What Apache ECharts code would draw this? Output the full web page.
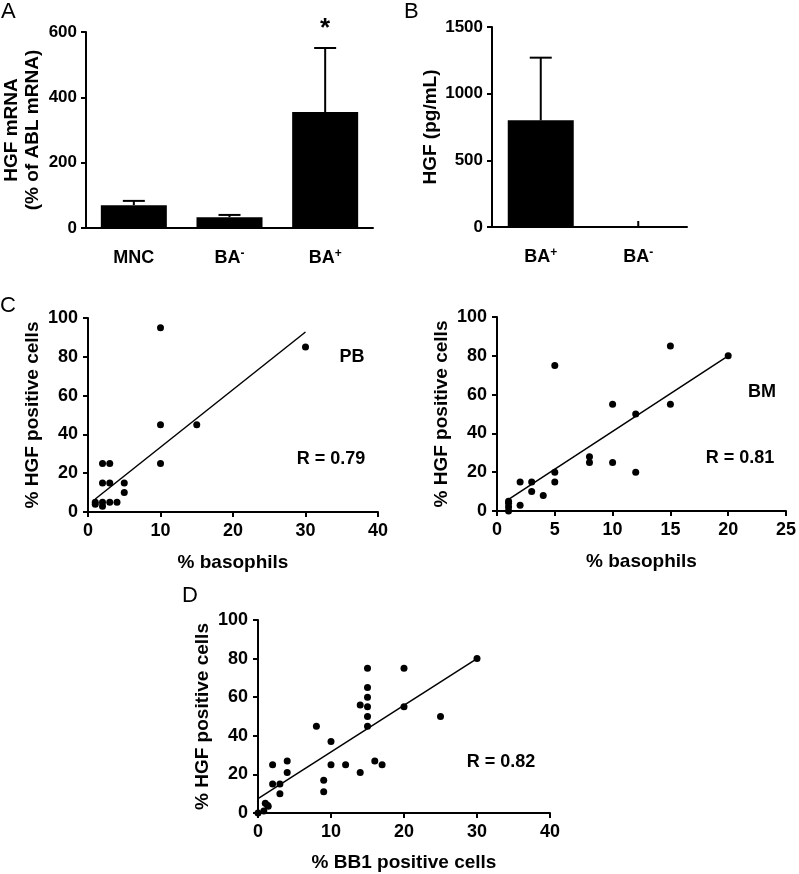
<!DOCTYPE html>
<html>
<head>
<meta charset="utf-8">
<script src="https://cdn.jsdelivr.net/npm/echarts@6/dist/echarts.min.js"></script>
<style>
html,body{margin:0;padding:0;background:#fff;}
#main{width:799px;height:874px;}
</style>
</head>
<body>
<div id="main"></div>
<script>
// ---- Panel A: HGF mRNA (% of ABL mRNA)
const catsA = ['MNC', 'BA-', 'BA+'];
const meanA = [70, 33, 355];
const errA = [13, 7, 196];
const markA = ['', '', '*'];
const ticksA = [0, 200, 400, 600];

// ---- Panel B: HGF (pg/mL)
const catsB = ['BA+', 'BA-'];
const meanB = [800, 0];
const errB = [470, 45];
const ticksB = [0, 500, 1000, 1500];

// ---- Panel C left: PB
const pbX = [10, 30, 10, 15, 10, 2, 3, 2, 3, 5, 5, 1, 1, 2, 2, 3, 4];
const pbY = [95, 85, 45, 45, 25, 25, 25, 15, 15, 15, 10, 5, 4, 5, 3, 5, 5];
const pbFitX = [1, 30];
const pbFitY = [6.7, 92.8];

// ---- Panel C right: BM
const bmX = [5, 15, 20, 15, 10, 12, 8, 8, 10, 12, 5, 5, 3, 2, 3, 4, 2, 1, 1, 1, 1];
const bmY = [75, 85, 80, 55, 55, 50, 28, 25, 25, 20, 20, 15, 15, 15, 10, 8, 3, 5, 4, 2, 0];
const bmFitX = [1, 20];
const bmFitY = [6, 80];

// ---- Panel D: BB1
const bbX = [30, 20, 15, 15, 15, 15, 15, 15, 14, 20, 25, 8, 10, 10, 12, 14, 16, 17, 9, 9, 4, 4, 2, 2, 3, 3, 1, 1.3, 1.4, 0.8, 0];
const bbY = [80, 75, 75, 65, 60, 55, 50, 45, 56, 55, 50, 45, 37, 25, 25, 21, 27, 25, 17, 11, 27, 21, 25, 15, 15, 10, 5, 4, 3.5, 1, 0];
const bbFitX = [0, 30];
const bbFitY = [7.4, 80];

const FONT = '"Liberation Sans", Arial, sans-serif';
const zip = (a, b) => a.map((v, i) => [v, b[i]]);

const chart = echarts.init(document.getElementById('main'), null, {renderer: 'canvas'});

function catLabel(v) {
  const m = v.match(/^BA([+-])$/);
  if (m) return '{b|BA}{s|' + (m[1] === '-' ? '-' : '+') + '}';
  return '{b|' + v + '}';
}
const catRich = {
  b: {fontSize: 18, fontWeight: 'bold', fontFamily: FONT, color: '#000', lineHeight: 20},
  s: {fontSize: 12, fontWeight: 'bold', fontFamily: FONT, color: '#000', lineHeight: 12, verticalAlign: 'top'}
};

const axisLine = {show: true, lineStyle: {color: '#000', width: 2}};
const axisTick = {show: true, length: 5, lineStyle: {color: '#000', width: 2}};

function valueAxis(gridIndex, min, max, interval, fs, name, gap, margin) {
  return {
    type: 'value', gridIndex, min, max, interval,
    axisLine, axisTick,
    splitLine: {show: false},
    axisLabel: {color: '#000', fontSize: fs, fontWeight: 'bold', fontFamily: FONT, margin: margin,
      formatter: v => String(v)},
    name, nameLocation: 'middle', nameGap: gap,
    nameTextStyle: {color: '#000', fontSize: 19, fontWeight: 'bold', fontFamily: FONT, lineHeight: 21}
  };
}

function errRender(means, errs, marks) {
  return function (params, api) {
    const i = params.dataIndex;
    const x = api.value(0);
    const m = api.value(1);
    const e = api.value(2);
    const p0 = api.coord([x, m]);
    const p1 = api.coord([x, m + e]);
    const children = [{
      type: 'line',
      shape: {x1: p0[0], y1: p0[1], x2: p1[0], y2: p1[1]},
      style: {stroke: '#000', lineWidth: 2}
    }];
    if (m > 0) {
      children.push({
        type: 'line',
        shape: {x1: p1[0] - 11, y1: p1[1], x2: p1[0] + 11, y2: p1[1]},
        style: {stroke: '#000', lineWidth: 2}
      });
    }
    if (marks && marks[i]) {
      children.push({
        type: 'text',
        style: {text: marks[i], x: p1[0], y: p1[1] - 6, align: 'center', verticalAlign: 'bottom',
          fontSize: 26, fontWeight: 'bold', fontFamily: FONT, fill: '#000'}
      });
    }
    return {type: 'group', children};
  };
}

const letter = (t, x, y) => ({
  type: 'text', left: x, top: y,
  style: {text: t, fontSize: 22, fontFamily: FONT, fill: '#000'}
});
const note = (t, cx, cy) => ({
  type: 'text', x: cx, y: cy,
  style: {text: t, fontSize: 18, fontWeight: 'bold', fontFamily: FONT, fill: '#000', align: 'center', verticalAlign: 'middle'}
});
const dot = {color: '#000', opacity: 1};

const option = {
  backgroundColor: '#fff',
  animation: false,
  grid: [
    {left: 86, top: 32, width: 287, height: 196},
    {left: 492, top: 27, width: 195, height: 200},
    {left: 88, top: 318, width: 290, height: 194},
    {left: 497, top: 317, width: 292, height: 194},
    {left: 258, top: 620, width: 292, height: 194}
  ],
  xAxis: [
    {type: 'category', gridIndex: 0, data: catsA, axisLine, axisTick: {show: false},
      axisLabel: {formatter: catLabel, rich: catRich, margin: 20}},
    {type: 'category', gridIndex: 1, data: catsB, axisLine, axisTick: {show: false},
      axisLabel: {formatter: catLabel, rich: catRich, margin: 20}},
    valueAxis(2, 0, 40, 10, 18, '% basophils', 40, 10),
    valueAxis(3, 0, 25, 5, 18, '% basophils', 40, 10),
    valueAxis(4, 0, 40, 10, 18, '% BB1 positive cells', 39, 10)
  ],
  yAxis: [
    valueAxis(0, ticksA[0], ticksA[ticksA.length - 1], ticksA[1] - ticksA[0], 17, 'HGF mRNA\n(% of ABL mRNA)', 43, 9),
    valueAxis(1, ticksB[0], ticksB[ticksB.length - 1], ticksB[1] - ticksB[0], 17, 'HGF (pg/mL)', 50, 9),
    valueAxis(2, 0, 100, 20, 18, '% HGF positive cells', 45, 10),
    valueAxis(3, 0, 100, 20, 18, '% HGF positive cells', 45, 10),
    valueAxis(4, 0, 100, 20, 18, '% HGF positive cells', 45, 10)
  ],
  series: [
    {type: 'bar', xAxisIndex: 0, yAxisIndex: 0, data: meanA, barWidth: 66, itemStyle: {color: '#000'}, z: 2},
    {type: 'custom', xAxisIndex: 0, yAxisIndex: 0, renderItem: errRender(meanA, errA, markA),
      data: catsA.map((c, i) => [i, meanA[i], errA[i]]), z: 3},
    {type: 'bar', xAxisIndex: 1, yAxisIndex: 1, data: meanB, barWidth: 66, itemStyle: {color: '#000'}, z: 2},
    {type: 'custom', xAxisIndex: 1, yAxisIndex: 1, renderItem: errRender(meanB, errB, null),
      data: catsB.map((c, i) => [i, meanB[i], errB[i]]), z: 3},

    {type: 'scatter', xAxisIndex: 2, yAxisIndex: 2, data: zip(pbX, pbY), symbolSize: 7, itemStyle: dot},
    {type: 'line', xAxisIndex: 2, yAxisIndex: 2, data: zip(pbFitX, pbFitY), showSymbol: false, lineStyle: {color: '#000', width: 1.5}},
    {type: 'scatter', xAxisIndex: 3, yAxisIndex: 3, data: zip(bmX, bmY), symbolSize: 7, itemStyle: dot},
    {type: 'line', xAxisIndex: 3, yAxisIndex: 3, data: zip(bmFitX, bmFitY), showSymbol: false, lineStyle: {color: '#000', width: 1.5}},
    {type: 'scatter', xAxisIndex: 4, yAxisIndex: 4, data: zip(bbX, bbY), symbolSize: 7, itemStyle: dot},
    {type: 'line', xAxisIndex: 4, yAxisIndex: 4, data: zip(bbFitX, bbFitY), showSymbol: false, lineStyle: {color: '#000', width: 1.5}}
  ],
  graphic: [
    letter('A', 1, 1),
    letter('B', 404, 1),
    letter('C', 0, 295),
    letter('D', 182, 585),
    note('PB', 352, 357),
    note('R = 0.79', 331, 459),
    note('BM', 762, 392),
    note('R = 0.81', 740, 458),
    note('R = 0.82', 501, 762)
  ]
};
chart.setOption(option);
</script>
</body>
</html>
